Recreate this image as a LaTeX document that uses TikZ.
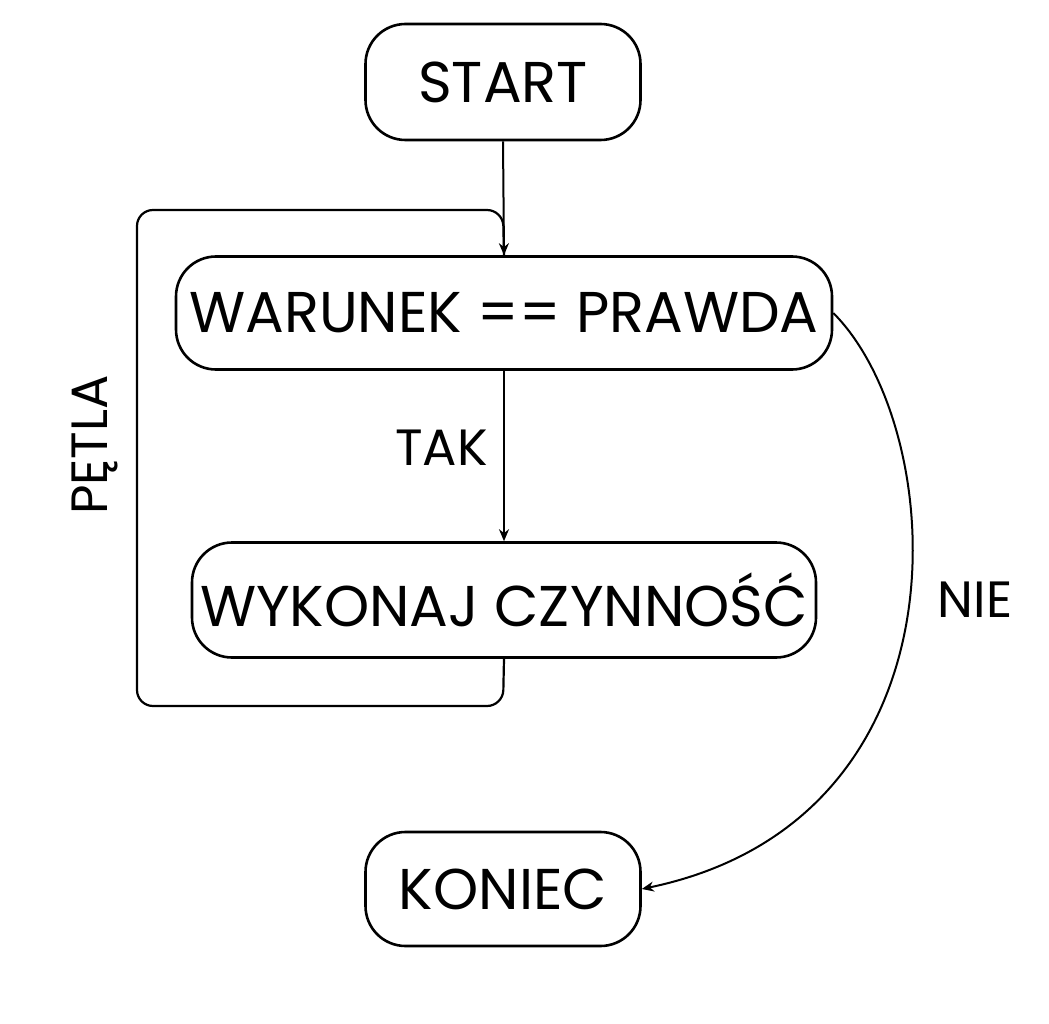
\documentclass[tikz,border=0pt]{standalone}
\usepackage{fontspec}
\setmainfont{Poppins}
\usetikzlibrary{arrows.meta}
\begin{document}
\begin{tikzpicture}[x=1pt,y=-1pt,
  box/.style={draw,line width=2.6pt,rounded corners=40pt,font=\fontsize{57.5}{62}\selectfont,inner sep=0pt,anchor=center},
  lbl/.style={font=\fontsize{51}{56}\selectfont},
  arr/.style={line width=2pt,-{Stealth[length=12pt,width=10pt,open]}}]
\useasboundingbox (0,0) rectangle (1049,1024);
\node[box,minimum width=275pt,minimum height=116pt] (start) at (503,82) {START};
\node[box,minimum width=656pt,minimum height=113pt] (war) at (504,313) {WARUNEK == PRAWDA};
\node[box,minimum width=624pt,minimum height=115pt] (wyk) at (504,600) {WYKONAJ CZYNNOŚĆ};
\node[box,minimum width=275pt,minimum height=114pt] (kon) at (503,889) {KONIEC};
\coordinate (lb) at (503,706);
\coordinate (lt) at (503,210);
\draw[line width=2.2pt,rounded corners=16pt] (wyk.south) -- (lb) -- (137,706) -- (137,210) -- (lt) -- (war.north);
\draw[arr] (start.south) -- (war.north);
\draw[arr] (war.south) -- node[lbl,left=12pt,pos=0.45] {TAK} (wyk.north);
\draw[arr] (war.east) .. controls (950,430) and (975,820) .. (kon.east);
\node[lbl] (nie) at (975,600) {NIE};
\node[lbl,rotate=90] (petla) at (95,445) {PĘTLA};
\end{tikzpicture}
\end{document}
